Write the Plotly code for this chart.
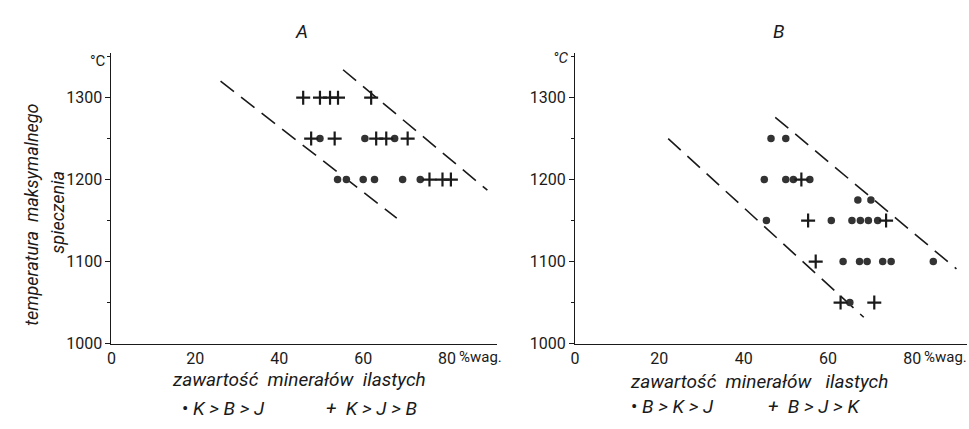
import plotly.graph_objects as go

# ---------------- data ----------------
# Panel A  (K>B>J circles, K>J>B crosses)
a_circ_x = [49.7, 60.4, 67.5, 53.9, 56.0, 60.0, 62.7, 69.4, 73.6]
a_circ_y = [1250, 1250, 1250, 1200, 1200, 1200, 1200, 1200, 1200]
a_plus_x = [45.7, 49.7, 52.1, 54.0, 61.9, 47.6, 53.2, 63.1, 65.5, 70.6, 75.8, 78.9, 80.9]
a_plus_y = [1300, 1300, 1300, 1300, 1300, 1250, 1250, 1250, 1250, 1250, 1200, 1200, 1200]
a_low_x, a_low_y = [26.0, 68.0], [1320, 1153]
a_up_x, a_up_y = [55.2, 89.6], [1334, 1187]

# Panel B  (B>K>J circles, B>J>K crosses)
b_circ_x = [46.5, 50.0, 44.9, 50.0, 51.8, 55.7, 67.1, 70.2, 45.4, 60.8, 65.7, 67.7, 69.6, 71.8,
            63.6, 67.5, 69.3, 73.0, 75.0, 85.0, 65.2]
b_circ_y = [1250, 1250, 1200, 1200, 1200, 1200, 1175, 1175, 1150, 1150, 1150, 1150, 1150, 1150,
            1100, 1100, 1100, 1100, 1100, 1100, 1050]
b_plus_x = [53.7, 55.3, 73.8, 57.1, 63.0, 71.0]
b_plus_y = [1200, 1150, 1150, 1100, 1050, 1050]
b_low_x, b_low_y = [22.1, 68.5], [1250, 1032]
b_up_x, b_up_y = [47.5, 90.5], [1276, 1091]

x_ticks = [0, 20, 40, 60, 80]
y_ticks = [1000, 1100, 1200, 1300]

W, H = 969, 429
INK = "#1a1a1a"
FONT = "Roboto, sans-serif"


def P(x, y):
    return x / W, (H - y) / H


fig = go.Figure()

def add_panel(cx, cy, px_, py_, lx, ly, ux, uy, xa, ya):
    for xs, ys in ((lx, ly), (ux, uy)):
        fig.add_trace(go.Scatter(x=xs, y=ys, mode="lines", xaxis=xa, yaxis=ya,
                                 line=dict(color=INK, width=1.6, dash="17px,9px"),
                                 hoverinfo="skip"))
    fig.add_trace(go.Scatter(x=cx, y=cy, mode="markers", xaxis=xa, yaxis=ya,
                             marker=dict(symbol="circle", size=7.5, color="#333333")))
    fig.add_trace(go.Scatter(x=px_, y=py_, mode="markers", xaxis=xa, yaxis=ya,
                             marker=dict(symbol="cross-thin", size=10,
                                         line=dict(width=2.2, color=INK))))

add_panel(a_circ_x, a_circ_y, a_plus_x, a_plus_y, a_low_x, a_low_y, a_up_x, a_up_y, "x", "y")
add_panel(b_circ_x, b_circ_y, b_plus_x, b_plus_y, b_low_x, b_low_y, b_up_x, b_up_y, "x2", "y2")

ydom = [(H - 351.7) / H, (H - 53.8) / H]
tickfont = dict(family=FONT, size=16, color=INK)
xcommon = dict(showline=True, linecolor=INK, linewidth=1, ticks="", tickvals=x_ticks,
               showgrid=False, zeroline=False, tickfont=tickfont, ticklabelstandoff=0)
ycommon = dict(showline=True, linecolor=INK, linewidth=1, ticks="outside", ticklen=5,
               tickcolor=INK, tickvals=y_ticks, range=[1000, 1355], showgrid=False,
               zeroline=False, tickfont=tickfont, domain=ydom,
               minor=dict(dtick=50, ticks="outside", ticklen=3, tickcolor=INK))

fig.update_layout(
    width=W, height=H, margin=dict(l=0, r=0, t=0, b=0),
    plot_bgcolor="white", paper_bgcolor="white", showlegend=False,
    xaxis=dict(domain=[107 / W, 495 / W], range=[0, 92], anchor="y", **xcommon),
    yaxis=dict(anchor="x", **ycommon),
    xaxis2=dict(domain=[573 / W, 967 / W], range=[0, 93], anchor="y2", **xcommon),
    yaxis2=dict(anchor="x2", **ycommon),
)

def note(text, x, y, size=17, angle=0):
    xx, yy = P(x, y)
    fig.add_annotation(text=text, x=xx, y=yy, xref="paper", yref="paper",
                       showarrow=False, textangle=angle, xanchor="center", yanchor="middle",
                       font=dict(family=FONT, size=size, color=INK))

S = "\u00a0"
note("<i>A</i>", 298, 32, 19)
note("<i>B</i>", 778, 32, 19)
note("°C", 93, 62, 15)
note("<i>°C</i>", 558, 59, 15)
note("<i>temperatura" + S * 2 + "maksymalnego</i>", 27, 220, 18, -90)
note("<i>spieczenia</i>", 53, 217, 18, -90)
note("<i>zawartość" + S * 2 + "minerałów" + S * 2 + "ilastych</i>", 296, 389, 19)
note("<i>zawartość" + S * 2 + "minerałów" + S * 3 + "ilastych</i>", 758, 391, 19)
note("%wag.", 478, 366, 15)
note("%wag.", 945, 366, 15)
note("•<i>" + S + "K > B" + S + "> J</i>", 220, 418, 19)
note("<i>+" + S * 2 + "K > J > B</i>", 368, 418, 19)
note("•<i>" + S + "B > K > J</i>", 671, 416, 19)
note("<i>+" + S * 2 + "B > J > K</i>", 813, 416, 19)

fig.write_html("out.html")
